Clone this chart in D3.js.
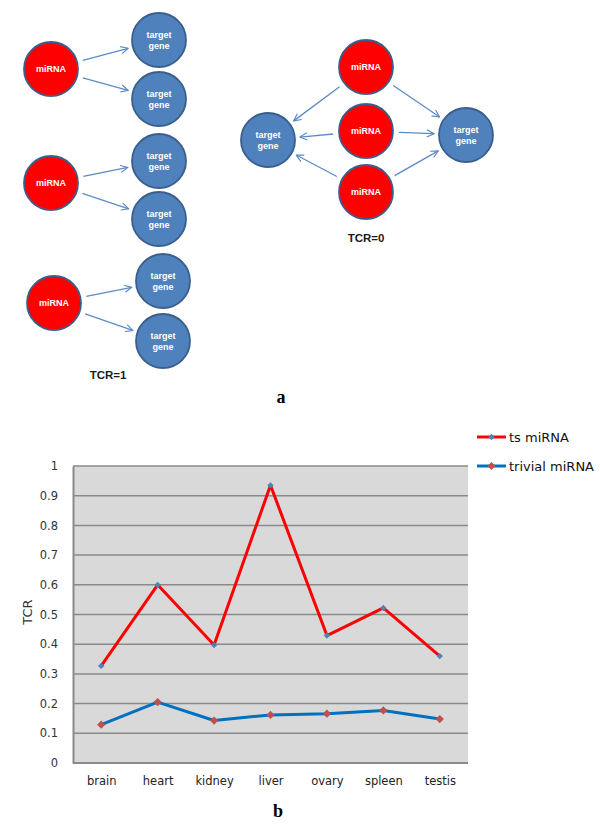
<!DOCTYPE html>
<html>
<head>
<meta charset="utf-8">
<script src="https://cdn.jsdelivr.net/npm/d3@7"></script>
<style>
  body { margin: 0; background: #fff; }
  svg { display: block; }
</style>
</head>
<body>
<svg id="chart" width="600" height="830"></svg>
<script>
// chart b data
const tissues = ['brain', 'heart', 'kidney', 'liver', 'ovary', 'spleen', 'testis'];
const tsMirna = [0.327, 0.600, 0.397, 0.935, 0.429, 0.522, 0.360];
const trivialMirna = [0.129, 0.205, 0.143, 0.162, 0.166, 0.177, 0.148];
const yTicks = [0, 0.1, 0.2, 0.3, 0.4, 0.5, 0.6, 0.7, 0.8, 0.9, 1];
const seriesNames = ['ts miRNA', 'trivial miRNA'];

// diagram a: labels and links
const mirnaLabel = 'miRNA';
const targetLabel = ['target', 'gene'];
const panelLabels = ['TCR=1', 'TCR=0'];

const svg = d3.select('#chart');

// ---------- diagram a ----------
const arrowColor = '#5b8bc9';
svg.append('defs').append('marker')
  .attr('id', 'arrow')
  .attr('viewBox', '0 0 10 10')
  .attr('refX', 9).attr('refY', 5)
  .attr('markerWidth', 9).attr('markerHeight', 9)
  .attr('markerUnits', 'userSpaceOnUse')
  .attr('orient', 'auto')
  .append('path')
  .attr('d', 'M1,1 L9,5 L1,9')
  .attr('fill', 'none')
  .attr('stroke', arrowColor)
  .attr('stroke-width', 1.3);

// node layout (pixel positions of the sketch)
const nodes = [
  { id: 'm1', type: 'mirna', x: 51, y: 69 },
  { id: 't1', type: 'target', x: 159, y: 40 },
  { id: 't2', type: 'target', x: 159, y: 99 },
  { id: 'm2', type: 'mirna', x: 51, y: 183 },
  { id: 't3', type: 'target', x: 159, y: 161 },
  { id: 't4', type: 'target', x: 159, y: 219 },
  { id: 'm3', type: 'mirna', x: 54, y: 303 },
  { id: 't5', type: 'target', x: 163, y: 281 },
  { id: 't6', type: 'target', x: 163, y: 341 },
  { id: 'm4', type: 'mirna', x: 366, y: 67 },
  { id: 'm5', type: 'mirna', x: 366, y: 131 },
  { id: 'm6', type: 'mirna', x: 366, y: 192 },
  { id: 'tl', type: 'target', x: 268, y: 140 },
  { id: 'tr', type: 'target', x: 466, y: 135 }
];
const links = [
  ['m1', 't1'], ['m1', 't2'], ['m2', 't3'], ['m2', 't4'], ['m3', 't5'], ['m3', 't6'],
  ['m4', 'tl'], ['m5', 'tl'], ['m6', 'tl'], ['m4', 'tr'], ['m5', 'tr'], ['m6', 'tr']
];
const byId = new Map(nodes.map(n => [n.id, n]));
const radius = 27;

const diagram = svg.append('g').attr('class', 'diagram');

diagram.selectAll('line.link')
  .data(links)
  .enter()
  .append('line')
  .attr('class', 'link')
  .each(function(d) {
    const a = byId.get(d[0]);
    const b = byId.get(d[1]);
    const dx = b.x - a.x, dy = b.y - a.y;
    const len = Math.sqrt(dx * dx + dy * dy);
    const ux = dx / len, uy = dy / len;
    const gapA = radius + 6, gapB = radius + 5;
    d3.select(this)
      .attr('x1', a.x + ux * gapA).attr('y1', a.y + uy * gapA)
      .attr('x2', b.x - ux * gapB).attr('y2', b.y - uy * gapB);
  })
  .attr('stroke', arrowColor)
  .attr('stroke-width', 1.3)
  .attr('marker-end', 'url(#arrow)');

const nodeG = diagram.selectAll('g.node')
  .data(nodes)
  .enter()
  .append('g')
  .attr('class', 'node')
  .attr('transform', d => `translate(${d.x},${d.y})`);

nodeG.append('circle')
  .attr('r', radius)
  .attr('fill', d => d.type === 'mirna' ? '#ff0000' : '#4f81bd')
  .attr('stroke', '#3a5f8c')
  .attr('stroke-width', 1.8);

nodeG.each(function(d) {
  const g = d3.select(this);
  const lines = d.type === 'mirna' ? [mirnaLabel] : targetLabel;
  const offset = d.type === 'mirna' ? [0] : [-5.5, 5.5];
  lines.forEach((t, i) => {
    g.append('text')
      .attr('y', offset[i])
      .attr('dy', '0.35em')
      .attr('text-anchor', 'middle')
      .attr('font-family', 'Liberation Sans, Arial, sans-serif')
      .attr('font-weight', 'bold')
      .attr('font-size', 9)
      .attr('fill', '#ffffff')
      .text(t);
  });
});

diagram.selectAll('text.panel')
  .data(panelLabels)
  .enter()
  .append('text')
  .attr('class', 'panel')
  .attr('x', (d, i) => i === 0 ? 108 : 366)
  .attr('y', (d, i) => i === 0 ? 379 : 242)
  .attr('text-anchor', 'middle')
  .attr('font-family', 'Liberation Sans, Arial, sans-serif')
  .attr('font-weight', 'bold')
  .attr('font-size', 11.5)
  .attr('fill', '#1a1a1a')
  .text(d => d);

svg.append('text')
  .attr('x', 281).attr('y', 403)
  .attr('text-anchor', 'middle')
  .attr('font-family', 'Liberation Serif, Times New Roman, serif')
  .attr('font-weight', 'bold')
  .attr('font-size', 18)
  .text('a');

// ---------- chart b ----------
const plot = { left: 73, right: 468, top: 466, bottom: 763 };

const x = d3.scalePoint()
  .domain(tissues)
  .range([plot.left, plot.right])
  .padding(0.5);

const y = d3.scaleLinear()
  .domain([0, 1])
  .range([plot.bottom, plot.top]);

const chart = svg.append('g').attr('class', 'linechart');

chart.append('rect')
  .attr('x', plot.left).attr('y', plot.top)
  .attr('width', plot.right - plot.left)
  .attr('height', plot.bottom - plot.top)
  .attr('fill', '#d9d9d9');

// gridlines
chart.selectAll('line.grid')
  .data(yTicks.filter(t => t > 0))
  .enter()
  .append('line')
  .attr('class', 'grid')
  .attr('x1', plot.left).attr('x2', plot.right)
  .attr('y1', d => y(d)).attr('y2', d => y(d))
  .attr('stroke', '#8a8a8a')
  .attr('stroke-width', 1.5);

// y axis
const yAxis = chart.append('g')
  .attr('transform', `translate(${plot.left},0)`)
  .call(d3.axisLeft(y).tickValues(yTicks).tickSize(0).tickPadding(15).tickFormat(d3.format('~g')));
yAxis.select('.domain').attr('stroke', '#8a8a8a').attr('stroke-width', 2);
yAxis.selectAll('text')
  .attr('font-family', 'DejaVu Sans, Verdana, sans-serif')
  .attr('font-size', 11.5)
  .attr('fill', '#333');

// x axis
const xAxis = chart.append('g')
  .attr('transform', `translate(0,${plot.bottom})`)
  .call(d3.axisBottom(x).tickSize(0).tickPadding(14));
xAxis.select('.domain')
  .attr('d', `M${plot.left},0H${plot.right}`)
  .attr('stroke', '#8a8a8a').attr('stroke-width', 2);
xAxis.selectAll('text')
  .attr('font-family', 'DejaVu Sans, Verdana, sans-serif')
  .attr('font-size', 11.5)
  .attr('fill', '#222');

chart.append('text')
  .attr('transform', 'translate(32,612) rotate(-90)')
  .attr('text-anchor', 'middle')
  .attr('font-family', 'DejaVu Sans, Verdana, sans-serif')
  .attr('font-size', 13)
  .attr('fill', '#333')
  .text('TCR');

const lineGen = d3.line()
  .x((d, i) => x(tissues[i]))
  .y(d => y(d));

const series = [
  { name: seriesNames[0], values: tsMirna, line: '#ff0000', marker: '#4f81bd', size: 20 },
  { name: seriesNames[1], values: trivialMirna, line: '#0070c0', marker: '#c0504d', size: 34 }
];

// square rotated 45 degrees, like the spreadsheet diamond marker
const diamond = size => d3.symbol(d3.symbolSquare, size);

series.forEach(s => {
  chart.append('path')
    .datum(s.values)
    .attr('d', lineGen)
    .attr('fill', 'none')
    .attr('stroke', s.line)
    .attr('stroke-width', 3)
    .attr('stroke-linejoin', 'round');
  chart.selectAll(null)
    .data(s.values)
    .enter()
    .append('path')
    .attr('d', diamond(s.size))
    .attr('transform', (d, i) => `translate(${x(tissues[i])},${y(d)}) rotate(45)`)
    .attr('fill', s.marker);
});

// legend
const legend = chart.append('g').attr('class', 'legend');
series.forEach((s, i) => {
  const ly = 437 + i * 29;
  const lg = legend.append('g').attr('transform', `translate(477,${ly})`);
  lg.append('line')
    .attr('x1', 0).attr('x2', 29)
    .attr('stroke', s.line).attr('stroke-width', 3);
  lg.append('path')
    .attr('d', diamond(s.size))
    .attr('transform', 'translate(14.5,0) rotate(45)')
    .attr('fill', s.marker);
  lg.append('text')
    .attr('x', 32).attr('dy', '0.35em')
    .attr('font-family', 'DejaVu Sans, Verdana, sans-serif')
    .attr('font-size', 13)
    .attr('fill', '#111')
    .text(s.name);
});

svg.append('text')
  .attr('x', 278).attr('y', 817)
  .attr('text-anchor', 'middle')
  .attr('font-family', 'Liberation Serif, Times New Roman, serif')
  .attr('font-weight', 'bold')
  .attr('font-size', 18)
  .text('b');
</script>
</body>
</html>
